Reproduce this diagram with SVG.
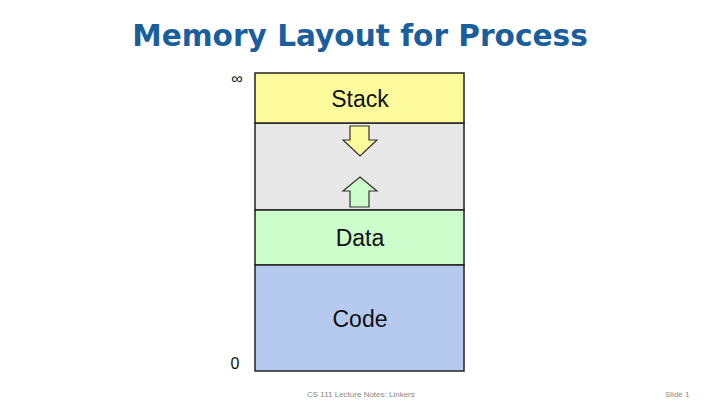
<svg xmlns="http://www.w3.org/2000/svg" width="720" height="405" viewBox="0 0 720 405">
<style>
.seg{stroke:#222;stroke-width:1.5}
.lbl{font-family:"Liberation Sans",Arial,sans-serif;font-size:23px;fill:#111;text-anchor:middle}
.axis{font-family:"Liberation Sans",Arial,sans-serif;font-size:16px;fill:#111;text-anchor:middle}
.foot{font-family:"Liberation Sans",Arial,sans-serif;font-size:8px;fill:#888}
.arr{stroke:#333;stroke-width:1.2}
</style>
<rect width="720" height="405" fill="#fff"/>
<text x="360" y="46" text-anchor="middle" font-family="'DejaVu Sans',Verdana,sans-serif" font-weight="bold" font-size="29.6" fill="#1b5e9c">Memory Layout for Process</text>
<g id="gap"><rect class="seg" x="255" y="123" width="209" height="87" fill="#e8e8e8"/></g>
<g id="stack"><rect class="seg" x="255" y="73" width="209" height="50" fill="#fdfa9c"/><text class="lbl" x="360" y="107">Stack</text></g>
<g id="data"><rect class="seg" x="255" y="210" width="209" height="55" fill="#cdfdcb"/><text class="lbl" x="360" y="246">Data</text></g>
<g id="code"><rect class="seg" x="255" y="265" width="209" height="106" fill="#b6c9ef"/><text class="lbl" x="360" y="327">Code</text></g>
<g id="arrows">
<polygon class="arr" fill="#fdfa9c" points="350,126 369,126 369,140 377,140 360,156 343,140 350,140"/>
<polygon class="arr" fill="#cdfdcb" points="360,177 377,191 369,191 369,207 350,207 350,191 343,191"/>
</g>
<text class="axis" x="237" y="84">∞</text>
<text class="axis" x="235" y="369">0</text>
<text class="foot" x="307" y="397">CS 111 Lecture Notes: Linkers</text>
<text class="foot" x="665" y="397">Slide 1</text>
</svg>
